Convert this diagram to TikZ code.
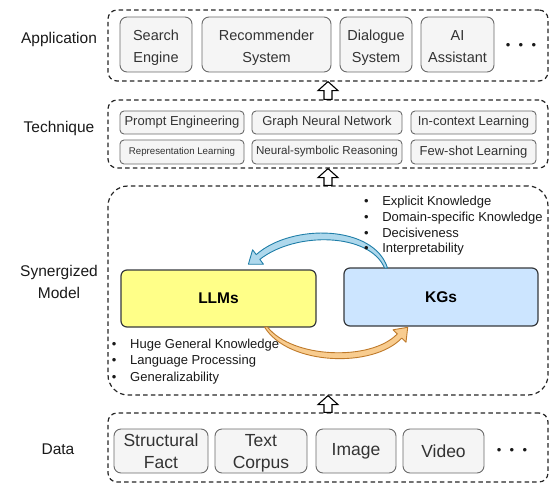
\documentclass[tikz,border=0pt]{standalone}
\usepackage{fontspec}
\setmainfont{Liberation Sans}
\usetikzlibrary{calc}

\definecolor{itemfill}{HTML}{F5F5F5}
\definecolor{itemline}{HTML}{6A6A6A}
\definecolor{itemtext}{HTML}{333333}
\definecolor{llmfill}{HTML}{FFFF88}
\definecolor{kgfill}{HTML}{CCE5FF}
\definecolor{boxline}{HTML}{36393D}
\definecolor{bluefill}{HTML}{AED8EC}
\definecolor{blueline}{HTML}{1F7EA8}
\definecolor{orangefill}{HTML}{F8CC8F}
\definecolor{orangeline}{HTML}{BF7A2A}

\begin{document}
\begin{tikzpicture}[x=1bp, y=-1bp,
  layer/.style={draw=black!85, line width=1.2bp, dash pattern=on 4.5bp off 3.2bp,
    rounded corners=9bp, inner sep=0pt},
  item/.style={draw=itemline, fill=itemfill, line width=0.9bp, rounded corners=7bp,
    text=itemtext, align=center, inner sep=0pt,
    font=\fontsize{14.5bp}{22bp}\selectfont},
  appitem/.style={item, text height=35.6bp, text depth=0bp},
  techitem/.style={item, rounded corners=4bp, font=\fontsize{13bp}{15bp}\selectfont},
  dataitem/.style={item, font=\fontsize{17.5bp}{22bp}\selectfont},
  datapair/.style={dataitem, text height=36.8bp, text depth=1.7bp},
  layerlabel/.style={text=black!90, align=center, inner sep=0pt,
    font=\fontsize{15.5bp}{22bp}\selectfont},
  core/.style={draw=boxline, line width=1.2bp, rounded corners=6bp, inner sep=0pt,
    font=\fontsize{15.5bp}{18bp}\selectfont\bfseries},
  bulletlist/.style={inner sep=0pt, anchor=base west, text=black!90,
    font=\fontsize{13bp}{16bp}\selectfont},
  dots/.style={inner sep=0pt, text=black!90, font=\fontsize{13bp}{14bp}\selectfont},
  hollow/.style={draw=black, fill=white, line width=1.1bp, line join=miter},
  blueblock/.style={draw=blueline, fill=bluefill, line width=0.9bp, line join=round},
  orangeblock/.style={draw=orangeline, fill=orangefill, line width=0.9bp, line join=round}]

\useasboundingbox (0,0) rectangle (550,483);

% ---------- layer frames ----------
\node[layer, minimum width=440bp, minimum height=71bp] (app) at (328,45.5) {};
\node[layer, minimum width=440bp, minimum height=68bp] (tech) at (328,134) {};
\node[layer, minimum width=440bp, minimum height=209bp, rounded corners=20bp] (syn) at (328,290.5) {};
\node[layer, minimum width=440bp, minimum height=69bp] (data) at (328,447.5) {};

% ---------- layer names ----------
\node[layerlabel] (lapp) at (59,39) {Application};
\node[layerlabel] (ltech) at (59,128) {Technique};
\node[layerlabel] (lsyn) at (59,282) {Synergized\\Model};
\node[layerlabel] (ldata) at (58,449) {Data};

% ---------- application layer ----------
\node[appitem, minimum width=72bp, minimum height=55bp] (search) at (156,44.5) {Search\\Engine};
\node[appitem, minimum width=129bp, minimum height=55bp] (recsys) at (266.5,44.5) {Recommender\\System};
\node[appitem, minimum width=72bp, minimum height=55bp] (dialog) at (376,44.5) {Dialogue\\System};
\node[appitem, minimum width=73bp, minimum height=55bp] (assist) at (457.5,44.5) {AI\\Assistant};
\node[dots] (appmore) at (521,46) {•\hspace{8.3bp}•\hspace{8.3bp}•};

% ---------- technique layer ----------
\node[techitem, minimum width=124bp, minimum height=23bp] (prompt) at (182,122.5) {Prompt Engineering};
\node[techitem, minimum width=150bp, minimum height=23bp] (gnn) at (327,122.5) {Graph Neural Network};
\node[techitem, minimum width=125bp, minimum height=23bp] (icl) at (473.5,122.5) {In-context Learning};
\node[techitem, minimum width=124bp, minimum height=24bp,
      font=\fontsize{9.7bp}{12bp}\selectfont] (replearn) at (182,152) {Representation Learning};
\node[techitem, minimum width=150bp, minimum height=24bp,
      font=\fontsize{11.6bp}{14bp}\selectfont] (neusym) at (327,152) {Neural-symbolic Reasoning};
\node[techitem, minimum width=125bp, minimum height=24bp] (fewshot) at (473.5,152) {Few-shot Learning};

% ---------- synergized model ----------
\node[core, fill=llmfill, minimum width=195bp, minimum height=57bp] (llms) at (218.5,298.5) {LLMs};
\node[core, fill=kgfill, minimum width=194bp, minimum height=58bp] (kgs) at (441,297) {KGs};

% KGs -> LLMs
\filldraw[blueblock] (387.5,268) .. controls (374,225) and (292,223) .. (256.2,254.6)
  -- (252.6,249.8) -- (248.4,264.2) -- (263.4,264.2) -- (259.8,259.4)
  .. controls (296,231) and (370,233) .. (384.5,268) -- cycle;
% LLMs -> KGs
\filldraw[orangeblock] (264.5,327) .. controls (288,365.5) and (373,368.5) .. (401.7,338.1)
  -- (406,342.2) -- (407.7,327.3) -- (393,329.8) -- (397.3,333.9)
  .. controls (371,361.5) and (292,358.5) .. (267.5,327) -- cycle;

\node[bulletlist, font=\fontsize{13bp}{15.8bp}\selectfont] (kglist) at (364,205.5)
  {\begin{tabular}[t]{@{}l@{\hspace{13.5bp}}l@{}}
   • & Explicit Knowledge\\
   • & Domain-specific Knowledge\\
   • & Decisiveness\\
   • & Interpretability
   \end{tabular}};
\node[bulletlist, font=\fontsize{13bp}{16.4bp}\selectfont] (llmlist) at (111.7,348.5)
  {\begin{tabular}[t]{@{}l@{\hspace{13.8bp}}l@{}}
   • & Huge General Knowledge\\
   • & Language Processing\\
   • & Generalizability
   \end{tabular}};

% ---------- data layer ----------
\node[datapair, minimum width=94bp, minimum height=44bp] (fact) at (161,451) {Structural\\Fact};
\node[datapair, minimum width=92bp, minimum height=44bp] (corpus) at (261,451) {Text\\Corpus};
\node[dataitem, minimum width=80bp, minimum height=44bp] (image) at (356,451) {Image};
\node[dataitem, minimum width=81bp, minimum height=44bp] (video) at (443.5,451) {Video};
\node[dots] (datamore) at (512,451) {•\hspace{8.3bp}•\hspace{8.3bp}•};

% ---------- hollow arrows between layers ----------
\draw[hollow] (app.south) -- ++(10,9) -- ++(-6,0) -- ($(tech.north)+(4,0)$)
  -- ($(tech.north)+(-4,0)$) -- ($(app.south)+(-4,9)$) -- ++(-6,0) -- cycle;
\draw[hollow] (tech.south) -- ++(10,9) -- ++(-6,0) -- ($(syn.north)+(4,0)$)
  -- ($(syn.north)+(-4,0)$) -- ($(tech.south)+(-4,9)$) -- ++(-6,0) -- cycle;
\draw[hollow] (syn.south) -- ++(10,9) -- ++(-6,0) -- ($(data.north)+(4,0)$)
  -- ($(data.north)+(-4,0)$) -- ($(syn.south)+(-4,9)$) -- ++(-6,0) -- cycle;

\end{tikzpicture}
\end{document}
